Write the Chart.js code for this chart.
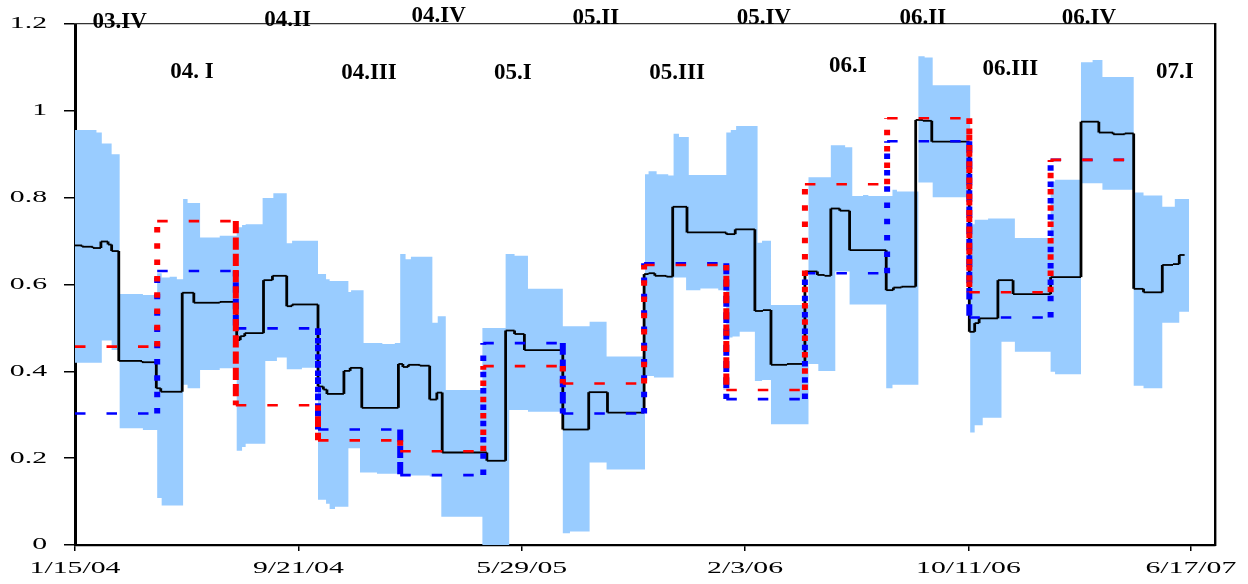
<!DOCTYPE html>
<html>
<head>
<meta charset="utf-8">
<title>Quarterly range chart</title>
<script src="https://cdn.jsdelivr.net/npm/chart.js@4.4.0/dist/chart.umd.min.js"></script>
<style>
  html, body { margin: 0; padding: 0; background: #ffffff; }
  #wrap { width: 1248px; height: 584px; }
</style>
</head>
<body>
<div id="wrap"><canvas id="chart" width="1248" height="584"></canvas></div>
<script>
// x values are day offsets counted from this date
const startDate = '2004-01-15';

// shaded range: day where the range changes, with its upper and lower bound
const bandDays = [0,24,30,41,50,76,92,97,106,114,121,126,140,162,181,187,191,210,213,222,
  226,237,243,254,272,281,285,291,306,309,319,323,338,344,358,364,370,376,397,400,
  406,410,415,456,482,486,492,507,546,554,576,595,638,642,648,651,664,670,676,684,
  687,700,720,729,734,736,740,744,761,764,769,779,821,832,846,851,862,867,870,882,
  888,908,915,920,944,951,960,1002,1007,1016,1022,1037,1052,1092,1097,1126,1139,1150,1185,1196,
  1217,1231,1236];
const bandHigh = [.956,.950,.925,.900,.578,.576,.626,.616,.618,.612,.797,.788,.708,.712,.732,.737,.739,.799,.799,.810,
  .810,.695,.701,.701,.624,.612,.608,.608,.583,.587,.587,.465,.465,.463,.465,.670,.658,.664,.664,.512,
  .527,.527,.357,.500,.670,.670,.666,.590,.504,.504,.514,.434,.854,.861,.861,.854,.851,.947,.940,.940,
  .852,.852,.852,.950,.956,.956,.965,.965,.965,.696,.701,.553,.847,.847,.921,.921,.916,.916,.804,.806,
  .804,.804,.818,.814,1.126,1.123,1.059,.739,.749,.749,.752,.752,.707,.837,.841,1.112,1.117,1.078,.812,.805,
  .779,.797,.797];
const bandLow = [.420,.420,.471,.449,.269,.265,.108,.091,.091,.091,.369,.361,.403,.407,.217,.226,.233,.233,.424,.424,
  .432,.405,.405,.408,.104,.095,.083,.088,.223,.223,.167,.167,.164,.164,.164,.160,.160,.160,.158,.158,
  .158,.065,.065,.000,.000,.311,.311,.307,.027,.031,.190,.174,.389,.389,.386,.386,.386,.616,.616,.587,
  .587,.591,.587,.478,.478,.480,.480,.491,.378,.378,.380,.278,.417,.401,.401,.630,.630,.554,.554,.554,
  .554,.361,.369,.369,.835,.835,.801,.259,.276,.293,.293,.468,.445,.399,.393,.833,.833,.818,.367,.361,
  .512,.512,.537];
const bandEnd = 1247;

// daily series (black step line)
const seriesDays = [0,8,20,29,37,41,49,75,91,96,120,133,162,181,185,190,211,221,237,243,
  272,278,282,301,308,321,362,367,373,386,397,405,411,461,482,492,503,546,575,596,
  637,642,649,662,669,685,729,739,761,770,779,797,817,831,839,846,856,867,908,916,
  925,941,949,959,1001,1007,1012,1033,1050,1092,1126,1146,1162,1175,1185,1196,1217,1229,1236];
const seriesValues = [.690,.687,.684,.699,.692,.677,.424,.421,.361,.353,.581,.558,.560,.472,.481,.488,.610,.620,.550,.554,
  .365,.358,.348,.401,.408,.316,.417,.410,.415,.413,.335,.351,.213,.194,.494,.486,.449,.266,.352,.305,
  .624,.626,.620,.618,.779,.720,.716,.727,.539,.541,.415,.417,.630,.622,.620,.775,.770,.679,.587,.593,
  .595,.979,.977,.929,.491,.511,.522,.610,.578,.617,.975,.950,.946,.948,.590,.582,.645,.647,.668];
const seriesEnd = 1242;

// quarterly levels
const quarterDays = [0,92,180,272,364,457,546,637,729,817,909,1001,1092];
const quarterEnd = 1183;
const redLevels  = [.457,.746,.322,.241,.216,.412,.372,.645,.357,.831,.983,.582,.887];
const blueLevels = [.303,.631,.499,.266,.161,.465,.303,.649,.336,.626,.930,.524,.887];

// quarter captions and where they sit (day, value)
const quarterLabels = ['03.IV','04. I','04.II','04.III','04.IV','05.I','05.II','05.III','05.IV','06.I','06.II','06.III','06.IV','07.I'];
const labelDays   = [50,131,238,329,407,490,583,674,771,865,949,1047,1135,1231];
const labelLevels = [1.205,1.089,1.209,1.088,1.219,1.088,1.214,1.088,1.214,1.104,1.214,1.097,1.214,1.090];

// axis ticks
const xTickDates = ['2004-01-15', '2004-09-21', '2005-05-29', '2006-02-03', '2006-10-11', '2007-06-17'];
const yTicks = [0, 0.2, 0.4, 0.6, 0.8, 1, 1.2];
const xMax = 1276;
const yMax = 1.2;

const DAY_MS = 86400000;
const origin = Date.parse(startDate);
const toDay = iso => Math.round((Date.parse(iso) - origin) / DAY_MS);
const xTicks = xTickDates.map(toDay);

function formatDay(d) {
  const dt = new Date(origin + Math.round(d) * DAY_MS);
  return (dt.getUTCMonth() + 1) + '/' + dt.getUTCDate() + '/' + String(dt.getUTCFullYear()).slice(2);
}
function formatLevel(v) {
  return String(Math.round(v * 10) / 10);
}

// turn (start day, value) steps into corner points so each piece is purely horizontal or vertical
function stepPoints(days, values, endDay) {
  const pts = [];
  for (let i = 0; i < days.length; i++) {
    if (i > 0) pts.push({ x: days[i], y: values[i - 1] });
    pts.push({ x: days[i], y: values[i] });
  }
  pts.push({ x: endDay, y: values[values.length - 1] });
  return pts;
}

const isVertical = c => c.p0.parsed.x === c.p1.parsed.x;

function quarterDataset(levels, color) {
  return {
    data: stepPoints(quarterDays, levels, quarterEnd),
    borderColor: color,
    borderWidth: 2.6,
    borderCapStyle: 'butt',
    borderJoinStyle: 'miter',
    pointRadius: 0,
    fill: false,
    segment: {
      borderWidth: c => isVertical(c) ? 6 : 2.6,
      borderDash: c => isVertical(c) ? [5.5, 10.8] : [10.5, 21]
    }
  };
}

// horizontally stretched labels for the axes
function stretchedText(ctx, text, x, y, align, sx) {
  ctx.save();
  ctx.translate(x, y);
  ctx.scale(sx, 1);
  ctx.textAlign = align;
  ctx.fillText(text, 0, 0);
  ctx.restore();
}

const captionPlugin = {
  id: 'captions',
  afterDraw(chart) {
    const { ctx, chartArea, scales } = chart;
    const xs = scales.x, ys = scales.y;
    ctx.save();
    ctx.fillStyle = '#000';
    ctx.textBaseline = 'middle';
    ctx.font = '17px "Liberation Serif", "Times New Roman", serif';
    ys.ticks.forEach(t => {
      stretchedText(ctx, formatLevel(t.value), chartArea.left - 28, ys.getPixelForValue(t.value), 'right', 1.75);
    });
    xs.ticks.forEach(t => {
      stretchedText(ctx, formatDay(t.value), xs.getPixelForValue(t.value), chartArea.bottom + 24, 'center', 1.75);
    });
    ctx.font = 'bold 23px "Liberation Serif", "Times New Roman", serif';
    ctx.textAlign = 'center';
    quarterLabels.forEach((s, i) => {
      ctx.fillText(s, xs.getPixelForValue(labelDays[i]), ys.getPixelForValue(labelLevels[i]));
    });
    ctx.restore();
  }
};

new Chart(document.getElementById('chart'), {
  type: 'line',
  data: {
    datasets: [
      quarterDataset(redLevels, '#ff0000'),
      quarterDataset(blueLevels, '#0000ff'),
      {
        data: stepPoints(seriesDays, seriesValues, seriesEnd),
        borderColor: '#000000',
        borderWidth: 1.8,
        borderJoinStyle: 'miter',
        pointRadius: 0,
        fill: false,
        segment: {
          borderWidth: c => isVertical(c) ? 2.8 : 1.8
        }
      },
      {
        data: stepPoints(bandDays, bandLow, bandEnd),
        borderWidth: 0,
        pointRadius: 0,
        fill: false
      },
      {
        data: stepPoints(bandDays, bandHigh, bandEnd),
        borderWidth: 0,
        pointRadius: 0,
        backgroundColor: '#99ccff',
        fill: { target: '-1', above: '#99ccff', below: '#99ccff' }
      }
    ]
  },
  options: {
    responsive: false,
    devicePixelRatio: 1,
    animation: false,
    events: [],
    layout: { padding: { left: 64, right: 33, top: 24, bottom: 33 } },
    plugins: { legend: { display: false }, tooltip: { enabled: false } },
    elements: { line: { tension: 0 } },
    scales: {
      x: {
        type: 'linear', position: 'bottom', min: 0, max: xMax,
        afterBuildTicks: s => { s.ticks = xTicks.map(v => ({ value: v })); },
        ticks: { display: false },
        grid: { display: true, drawOnChartArea: false, drawTicks: true, tickLength: 6, color: '#000', lineWidth: 1.5 },
        border: { display: true, color: '#000', width: 2.2 }
      },
      y: {
        type: 'linear', position: 'left', min: 0, max: yMax,
        afterBuildTicks: s => { s.ticks = yTicks.map(v => ({ value: v })); },
        ticks: { display: false },
        grid: { display: true, drawOnChartArea: false, drawTicks: true, tickLength: 11, color: '#000', lineWidth: 1.5 },
        border: { display: true, color: '#000', width: 3 }
      },
      xTop: {
        type: 'linear', position: 'top', min: 0, max: xMax,
        ticks: { display: false },
        grid: { display: false, drawTicks: false },
        border: { display: true, color: '#333', width: 1.3 }
      },
      yRight: {
        type: 'linear', position: 'right', min: 0, max: yMax,
        ticks: { display: false },
        grid: { display: false, drawTicks: false },
        border: { display: true, color: '#000', width: 2.4 }
      }
    }
  },
  plugins: [captionPlugin]
});
</script>
</body>
</html>
